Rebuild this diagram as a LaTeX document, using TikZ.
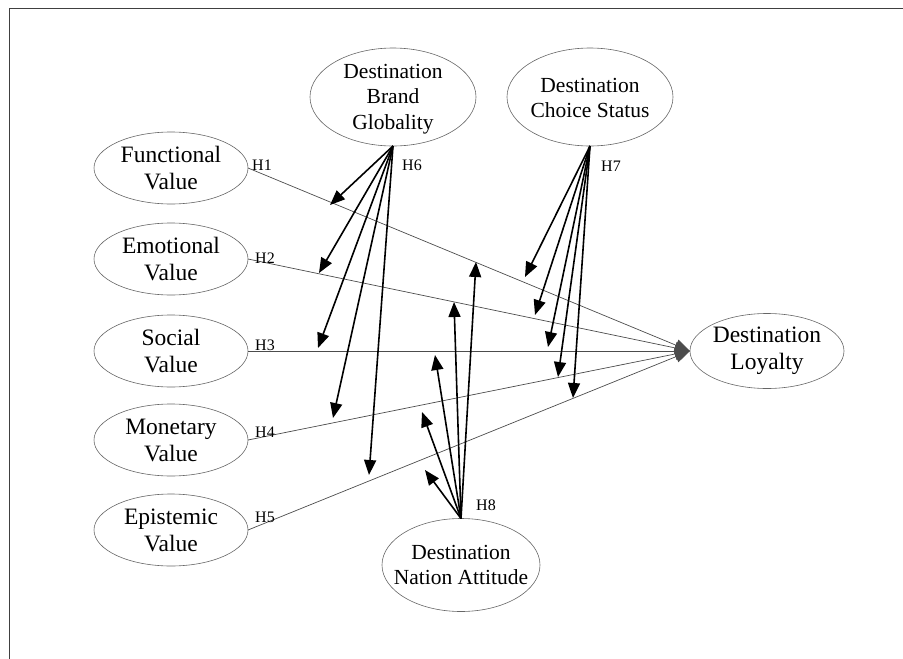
\documentclass[tikz,border=0pt]{standalone}
\usepackage{fontspec}
\setmainfont{Liberation Serif}
\usetikzlibrary{shapes.geometric,arrows.meta}
\begin{document}
\begin{tikzpicture}[x=1pt,y=-1pt,
  oval/.style={draw=black!60, line width=0.6pt, ellipse, inner sep=0pt, outer sep=0pt},
  sidetxt/.style={align=center, inner sep=0pt, font=\fontsize{23.5}{27}\selectfont, text=black},
  toptxt/.style={align=center, inner sep=0pt, font=\fontsize{21.5}{25.5}\selectfont, text=black},
  hlab/.style={font=\fontsize{16}{18}\selectfont, anchor=base west, inner sep=0pt, text=black},
  pathline/.style={draw=black!70, line width=0.7pt, -{Triangle[length=15pt,width=12pt]}},
  modarrow/.style={draw=black, line width=1.6pt, -{Triangle[length=15pt,width=12pt]}},
  frameline/.style={draw=black!75, line width=1pt}
]
\useasboundingbox (0,0) rectangle (903,659);
\draw[frameline] (9,659) -- (9,8) -- (903,8);

% left constructs
\node[oval, minimum width=154, minimum height=72] (fv) at (171,168) {};
\node[sidetxt] (fvt) at (fv) {Functional\\Value};
\node[oval, minimum width=154, minimum height=72] (ev) at (171,259) {};
\node[sidetxt] (evt) at (ev) {Emotional\\Value};
\node[oval, minimum width=154, minimum height=72] (sv) at (171,351) {};
\node[sidetxt] (svt) at (sv) {Social\\Value};
\node[oval, minimum width=154, minimum height=72] (mv) at (171,440) {};
\node[sidetxt] (mvt) at (mv) {Monetary\\Value};
\node[oval, minimum width=154, minimum height=72] (epv) at (171,530) {};
\node[sidetxt] (epvt) at (epv) {Epistemic\\Value};

% outcome
\node[oval, minimum width=154, minimum height=75] (dl) at (767,351) {};
\node[sidetxt] (dlt) at (dl) {Destination\\Loyalty};

% moderators
\node[oval, minimum width=166, minimum height=98] (bg) at (393,97) {};
\node[toptxt] (bgt) at ([yshift=-2]bg.center) {Destination\\Brand\\Globality};
\node[oval, minimum width=166, minimum height=98] (cs) at (590,97) {};
\node[toptxt] (cst) at ([yshift=-1]cs.center) {Destination\\Choice Status};
\node[oval, minimum width=158, minimum height=93] (na) at (461,565) {};
\node[toptxt] (nat) at (na) {Destination\\Nation Attitude};

% main paths
\draw[pathline] (fv.east) -- (dl.west);
\draw[pathline] (ev.east) -- (dl.west);
\draw[pathline] (sv.east) -- (dl.west);
\draw[pathline] (mv.east) -- (dl.west);
\draw[pathline] (epv.east) -- (dl.west);

% hypothesis labels
\node[hlab] (h1) at (252,170) {H1};
\node[hlab] (h2) at (255,263) {H2};
\node[hlab] (h3) at (255,350) {H3};
\node[hlab] (h4) at (255,437) {H4};
\node[hlab] (h5) at (255,522) {H5};
\node[hlab] (h6) at (402,170) {H6};
\node[hlab] (h7) at (601,171) {H7};
\node[hlab] (h8) at (476,510) {H8};

% moderator arrow tips
\coordinate (g1) at (330,205);
\coordinate (g2) at (319,273);
\coordinate (g3) at (318,348);
\coordinate (g4) at (333,418);
\coordinate (g5) at (369,475);
\coordinate (c1) at (525,277);
\coordinate (c2) at (535,315);
\coordinate (c3) at (548,347);
\coordinate (c4) at (558,377);
\coordinate (c5) at (573,398);
\coordinate (n1) at (476,262);
\coordinate (n2) at (454,302);
\coordinate (n3) at (435,355);
\coordinate (n4) at (422,412);
\coordinate (n5) at (425,470);

\foreach \t in {g1,g2,g3,g4,g5} \draw[modarrow] (bg.south) -- (\t);
\foreach \t in {c1,c2,c3,c4,c5} \draw[modarrow] (cs.south) -- (\t);
\foreach \t in {n1,n2,n3,n4,n5} \draw[modarrow] (na.north) -- (\t);
\end{tikzpicture}
\end{document}
